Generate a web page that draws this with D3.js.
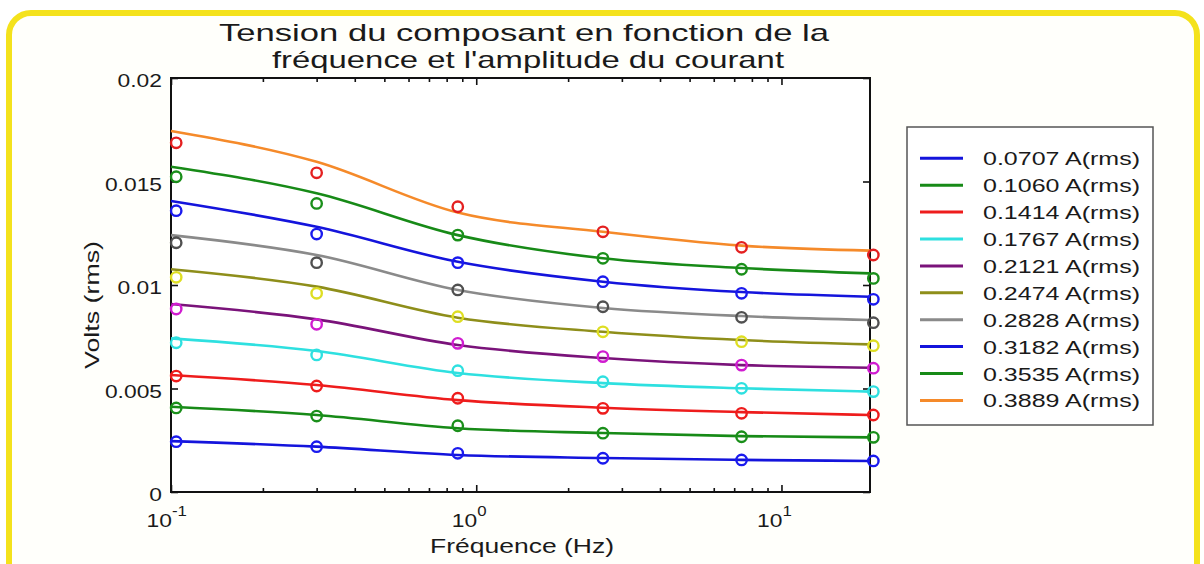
<!DOCTYPE html>
<html><head><meta charset="utf-8">
<script src="https://cdn.jsdelivr.net/npm/d3@7"></script>
<style>
html,body{margin:0;padding:0;background:#fff;}
svg text{font-family:"Liberation Sans",Arial,Helvetica,sans-serif;fill:#1a1a1a;}
</style></head>
<body><svg id="c" width="1204" height="564"></svg>
<script>
// ---- data ----
const titleLines = ["Tension du composant en fonction de la", "fréquence et l'amplitude du courant"];
const xLabel = "Fréquence (Hz)";
const yLabel = "Volts (rms)";
const freqs = [0.104, 0.3, 0.87, 2.6, 7.4, 20];        // measured points (Hz)
const fitFreqs = [0.1, 0.3, 0.87, 2.6, 7.4, 19.5];     // fitted curves (Hz)
const currents = ["0.0707 A(rms)","0.1060 A(rms)","0.1414 A(rms)","0.1767 A(rms)","0.2121 A(rms)",
                  "0.2474 A(rms)","0.2828 A(rms)","0.3182 A(rms)","0.3535 A(rms)","0.3889 A(rms)"];
const yTicks = [0, 0.005, 0.01, 0.015, 0.02];
const yTickLabels = ["0", "0.005", "0.01", "0.015", "0.02"];
const xMajor = [0.1, 1, 10];
const xMajorExp = ["-1", "0", "1"];

const v0707 = [0.00243, 0.00219, 0.00187, 0.00163, 0.00155, 0.00150];
const v1060 = [0.00406, 0.00367, 0.00320, 0.00284, 0.00267, 0.00264];
const v1414 = [0.00560, 0.00512, 0.00453, 0.00404, 0.00380, 0.00372];
const v1767 = [0.00721, 0.00662, 0.00586, 0.00533, 0.00501, 0.00485];
const v2121 = [0.00884, 0.00810, 0.00718, 0.00654, 0.00613, 0.00598];
const v2474 = [0.01037, 0.00960, 0.00847, 0.00774, 0.00726, 0.00707];
const v2828 = [0.01204, 0.01108, 0.00976, 0.00895, 0.00844, 0.00818];
const v3182 = [0.01359, 0.01246, 0.01108, 0.01016, 0.00960, 0.00931];
const v3535 = [0.01523, 0.01394, 0.01241, 0.01129, 0.01076, 0.01032];
const v3889 = [0.01687, 0.01542, 0.01378, 0.01257, 0.01182, 0.01145];

const f0707 = [0.00246, 0.00219, 0.00179, 0.00164, 0.00155, 0.00150];
const f1060 = [0.00412, 0.00372, 0.00308, 0.00285, 0.00270, 0.00264];
const f1414 = [0.00565, 0.00517, 0.00444, 0.00407, 0.00386, 0.00372];
const f1767 = [0.00742, 0.00681, 0.00575, 0.00526, 0.00501, 0.00485];
const f2121 = [0.00908, 0.00834, 0.00710, 0.00647, 0.00613, 0.00600];
const f2474 = [0.01076, 0.00992, 0.00842, 0.00774, 0.00734, 0.00713];
const f2828 = [0.01241, 0.01145, 0.00976, 0.00889, 0.00850, 0.00831];
const f3182 = [0.01406, 0.01281, 0.01112, 0.01016, 0.00966, 0.00943];
const f3535 = [0.01571, 0.01443, 0.01241, 0.01129, 0.01082, 0.01056];
const f3889 = [0.01744, 0.01595, 0.01350, 0.01257, 0.01190, 0.01166];

const measured = [v0707,v1060,v1414,v1767,v2121,v2474,v2828,v3182,v3535,v3889];
const fitted   = [f0707,f1060,f1414,f1767,f2121,f2474,f2828,f3182,f3535,f3889];
const lineColors   = ["#1414dc","#178a17","#ee1c1c","#2ee0e0","#7a137a","#8e8e1a","#8a8a8a","#1414dc","#178a17","#f58a2a"];
const markerColors = ["#1a1aee","#1a8f1a","#ee1c1c","#2ee0e0","#d01cd0","#dede22","#505050","#1a1aee","#1a8f1a","#e42020"];

// ---- layout ----
const svg = d3.select("#c");
const L = 171, R = 870, T = 78, B = 492;
const x = d3.scaleLog().domain([0.1, 19.5]).range([L, R]);
const y = d3.scaleLinear().domain([0, 0.02]).range([B, T]);

function stretch(sel, sx){
  sel.each(function(){ const w=this.getComputedTextLength(); d3.select(this).attr("textLength", w*sx).attr("lengthAdjust","spacingAndGlyphs"); });
}

// frame
svg.append("rect").attr("x",0).attr("y",0).attr("width",1204).attr("height",564).attr("fill","#fff");
svg.append("rect").attr("x",9).attr("y",13).attr("width",1188).attr("height",590).attr("rx",22)
  .attr("fill","#fffffb").attr("stroke","#f4e21c").attr("stroke-width",6);

// title
svg.selectAll(".title").data(titleLines).join("text").attr("class","title")
  .attr("x",(d,i)=>[524,528][i]).attr("y",(d,i)=>[41,68][i])
  .attr("text-anchor","middle").style("font-size","24px")
  .attr("textLength",(d,i)=>[610,512][i]).attr("lengthAdjust","spacingAndGlyphs")
  .text(d=>d);

// axes
const g = svg.append("g");
g.append("rect").attr("x",L).attr("y",T).attr("width",R-L).attr("height",B-T).attr("fill","#fff");

const minor = [];
[0.1,1,10].forEach(d=>{ for(let k=2;k<=9;k++){ const v=d*k; if(v<19.5) minor.push(v);} });

function styleAxis(a){ a.select(".domain").remove(); a.selectAll("line").attr("stroke","#111").attr("stroke-width",1.6); a.selectAll("text").remove(); }

g.append("g").attr("transform",`translate(0,${B})`).call(d3.axisBottom(x).tickValues(xMajor).tickSize(-7).tickSizeOuter(0)).call(styleAxis);
g.append("g").attr("transform",`translate(0,${B})`).call(d3.axisBottom(x).tickValues(minor).tickSize(-4).tickSizeOuter(0)).call(styleAxis);
g.append("g").attr("transform",`translate(0,${T})`).call(d3.axisTop(x).tickValues(xMajor).tickSize(-7).tickSizeOuter(0)).call(styleAxis);
g.append("g").attr("transform",`translate(0,${T})`).call(d3.axisTop(x).tickValues(minor).tickSize(-4).tickSizeOuter(0)).call(styleAxis);
g.append("g").attr("transform",`translate(${L},0)`).call(d3.axisLeft(y).tickValues(yTicks).tickSize(-7).tickSizeOuter(0)).call(styleAxis);
g.append("g").attr("transform",`translate(${R},0)`).call(d3.axisRight(y).tickValues(yTicks).tickSize(-7).tickSizeOuter(0)).call(styleAxis);

// box
g.append("rect").attr("x",L).attr("y",T).attr("width",R-L).attr("height",B-T).attr("fill","none").attr("stroke","#111").attr("stroke-width",2);

// y tick labels
const yl = g.selectAll(".ytl").data(yTicks).join("text").attr("class","ytl")
  .attr("x",162).attr("y",d=>y(d)+9).attr("text-anchor","end").style("font-size","19px")
  .text((d,i)=>yTickLabels[i]);
stretch(yl,1.2);

// x tick labels with superscripts
xMajor.forEach((d,i)=>{
  const t1 = g.append("text").attr("x",x(d)+1).attr("y",527).attr("text-anchor","end").style("font-size","19px").text("10");
  stretch(t1,1.2);
  const t2 = g.append("text").attr("x",x(d)+1).attr("y",516).attr("text-anchor","start").style("font-size","14px").text(xMajorExp[i]);
  stretch(t2,1.2);
});

// axis titles
svg.append("text").attr("x",522).attr("y",553).attr("text-anchor","middle").style("font-size","20px")
  .attr("textLength",184).attr("lengthAdjust","spacingAndGlyphs").text(xLabel);
svg.append("text").attr("transform","translate(99,305) rotate(-90)").attr("text-anchor","middle").style("font-size","20px")
  .attr("textLength",128).attr("lengthAdjust","spacingAndGlyphs").text(yLabel);

// curves
const line = d3.line().x(d=>x(d[0])).y(d=>y(d[1])).curve(d3.curveMonotoneX);
const plot = g.append("g");
fitted.forEach((arr,i)=>{
  plot.append("path").datum(fitFreqs.map((f,j)=>[f,arr[j]]))
    .attr("d",line).attr("fill","none").attr("stroke",lineColors[i]).attr("stroke-width",2.6);
});
measured.forEach((arr,i)=>{
  plot.selectAll(null).data(freqs.map((f,j)=>[f,arr[j]])).join("circle")
    .attr("cx",d=>x(d[0])).attr("cy",d=>y(d[1])).attr("r",5.2)
    .attr("fill","none").attr("stroke",markerColors[i]).attr("stroke-width",2.4);
});

// legend
const lg = svg.append("g");
lg.append("rect").attr("x",907).attr("y",127).attr("width",246).attr("height",298)
  .attr("fill","#fff").attr("stroke","#555").attr("stroke-width",1.5);
currents.forEach((c,i)=>{
  const yy = 158.3 + i*26.9;
  lg.append("line").attr("x1",920).attr("x2",963).attr("y1",yy).attr("y2",yy)
    .attr("stroke",lineColors[i]).attr("stroke-width",3);
  lg.append("text").attr("x",983).attr("y",yy+7).style("font-size","19px")
    .attr("textLength",157).attr("lengthAdjust","spacingAndGlyphs").text(c);
});
</script></body></html>
